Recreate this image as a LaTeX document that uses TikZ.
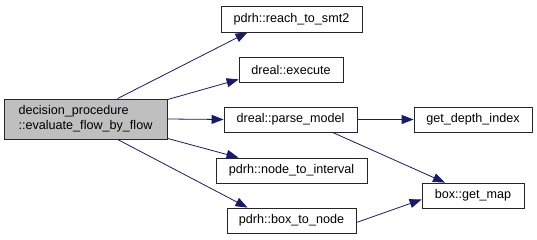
\documentclass[tikz,border=0pt]{standalone}
\usepackage{fontspec}
\setmainfont{Liberation Sans}
\usetikzlibrary{arrows.meta}
\definecolor{edgeblue}{RGB}{25,25,112}
\definecolor{focusgray}{RGB}{191,191,191}
\begin{document}
\begin{tikzpicture}[
    x=1pt, y=-1pt,
    func/.style={draw=black!85, line width=0.8pt, fill=white, inner sep=0pt,
        minimum height=25pt, font=\fontsize{12.6}{15}\selectfont},
    focus/.style={func, fill=focusgray, align=left, minimum height=40pt},
    call/.style={draw=edgeblue, line width=0.8pt, -{Triangle[length=12pt,width=9pt]}}
]
\useasboundingbox (0,0) rectangle (537,240);
% caller
\node[focus, minimum width=163pt] (evalflow) at (85.5,119) {decision\_procedure\\::evaluate\_flow\_by\_flow};

% direct callees
\node[func, minimum width=141pt, minimum height=26pt] (reachsmt) at (291.5,19) {pdrh::reach\_to\_smt2};
\node[func, minimum width=104pt] (execute) at (291,69.5) {dreal::execute};
\node[func, minimum width=133pt] (parsemodel) at (290.5,119.5) {dreal::parse\_model};
\node[func, minimum width=151pt] (nodeinterval) at (291.5,170.5) {pdrh::node\_to\_interval};
\node[func, minimum width=129pt] (boxnode) at (291.5,220.5) {pdrh::box\_to\_node};

% second level
\node[func, minimum width=118pt] (depthindex) at (473,119.5) {get\_depth\_index};
\node[func, minimum width=102pt] (getmap) at (473,195.5) {box::get\_map};

\draw[call] ([xshift=32pt]evalflow.north) -- ([xshift=-44pt]reachsmt.south);
\draw[call] ([yshift=-1pt]evalflow.north east) -- ([yshift=3pt]execute.south west);
\draw[call] (evalflow.east) -- (parsemodel.west);
\draw[call] ([yshift=1pt]evalflow.south east) -- ([xshift=-53pt]nodeinterval.north);
\draw[call] ([xshift=32pt]evalflow.south) -- ([xshift=-44pt]boxnode.north);

\draw[call] (parsemodel.east) -- (depthindex.west);
\draw[call] ([xshift=42pt]parsemodel.south) -- ([xshift=-28pt]getmap.north);
\draw[call] ([yshift=-2pt]boxnode.east) -- ([yshift=-4pt]getmap.west);
\end{tikzpicture}
\end{document}
